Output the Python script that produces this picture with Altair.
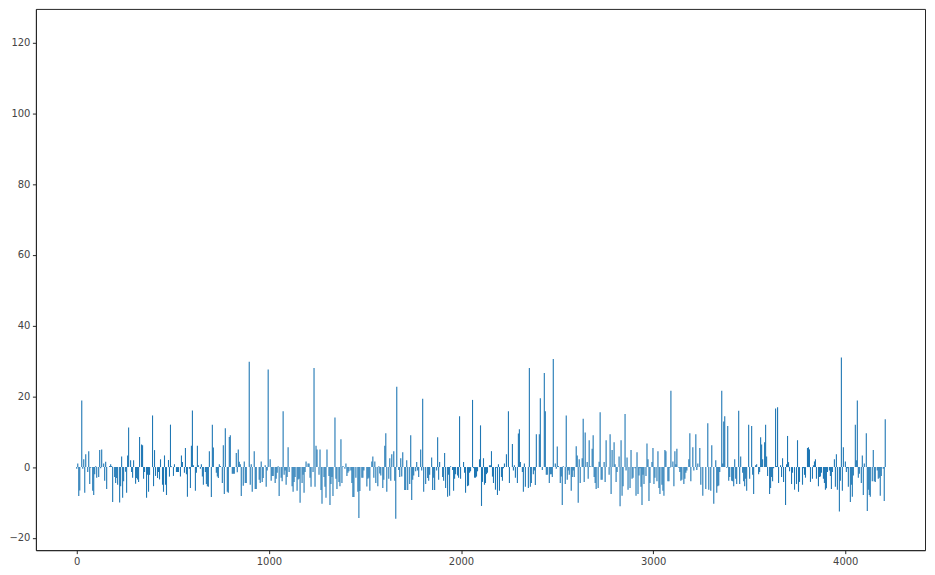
import altair as alt
import pandas as pd

# Bar heights, one per visible bar column (left to right)
seg1 = [-0.5, 1, -8.2, -6.6, 0, 18.8, -0.5, 2.2, -7.3, 3.6,
        0, -1.4, 4.5, -4.8, -0.2, 0, -6.7, -7.9, -2, 0.2,
        -3, 0, -2.8, 4.8, -0.3, 5, 0, 1, -3.9, 1.5,
        -6.2, 0, 0, 0.3, 0.8, 0.3, -9.9, 0, -2.8, -4.5,
        -3.1, -5, 0, -10, -5.4, 3, -8.7, -4, 0, -1.3,
        -7.3, 3.3, 11.2, 0, 1.9, -1.4, -3, 1.9, 0, -4.7,
        -3.1, -3.5, -4.2, 8.5, 0, 6.4, 6.2, -3.3, -1.4, 0,
        -8.7, -2.2, -7, -2.2, 0, 0, 14.6, -5.4, 4.8, -2.5,
        0, -3.1, -1.4, -3.5, 2.2, 0, -5, -7, 3.3, -5,
        -7.9, 0, 2, -2.7, 12, 0.2, 0, -2.5, 0.8, 0,
        -1.4, -1.4, -1.4, 0, -2.7, 3.3, 1.4, 0, -1.6, 5.4,
        -2, -8.4, 0, -0.5, -5.9, 6, 16, 0.5, 0, -6.7,
        -1.6, 6, 0.5, 0, -0.5, 0.8, -2.7, -5, 0, -1.4,
        -4.8, -5.4, -5.6, 4.5]
seg2 = [0, -8.5, 12, 5.5, 0, 0, -1.6, -2.7, -3.1, 0.8,
        0.3, 0, -4.5, 6.2, -7.6, 11, 0, -7, -7.3, 8.5,
        9, 0, -1.9, -1.9, -1.9, 0, 4, -1.5, 5, 1.5,
        0.8, -8.2, 0, -5.3, 1.6, -4.5, -4.5, 0, 0, 29.8,
        -5, 0.8, -7, 0, 4.5, -6.2, -6.2, 0, 0, -3.6,
        -4.5, 1.6, -4.2, -3.1, 0, 0.5, -5.6, -1, 27.6, 0,
        2.2, -3.9, -2.5, -2.5, 0, -4.5, -3.3, -1.6, 0.2, -8.2,
        0, -3, -4, 15.8, -2.2, -1, -5, -2.8, 5.6, -1.4,
        0, 0, -5.4, -7, -4.2, -2.8, 0, -6.7, -3.5, -3.3,
        -10.1, 0, -4.5, -2.2, -7.3, -1.4, 1.6, 0, 1, 1,
        -3, -5.6, 0, -1.4, 28, -5.6, 6, 5, 0, -2.2,
        5, -6.5, -10.4, 0, -2.8, -5.6, -8.7, 5, 0, -2.5,
        -10.7, -4.8, -2.8, -8.2, 0, 14, -3.3, -6.2, 0, -4.2,
        -5.4, 7.9, -4.5, 0.3, 0, -0.5, 1, -2.5, -1.6, -1.2,
        0, -1, -4.5, -8.5, -8.5]
seg3 = [0, -3, 0, -7, -14.4, -6.8, 0, -3, -3, -1,
        0, 0, -5.5, -3.3, -3, -6.7, 0, 1.6, 3, -3,
        1.6, -4.5, 0, -5.4, 0.2, -1.8, -2.4, 0, -5.9, -3.6,
        6, 9.6, -7, 0, -3.3, 2.5, -3.9, 3.6, 0, 4.5,
        -3.9, -14.6, 22.7, 0, -0.8, -2.8, 2.5, -2.7, 4.2, 0,
        -6.5, -6.5, 1.9, -6.5, 0, -4.8, 9, -9.3, -3.6, -2.4,
        0, -1.2, 1.4, -1, -2.8, 0, 5, -1, 19.3, -7,
        0, -4.8, 0, -3.1, -3.9, -2.2, 0, 2.7, -6.5, -3,
        -6.5, 0, -1, 8.4, -3.6, 1.4, 0, 0, -2.8, -3.9,
        4, -5.9, 0, -8.4, -2.2, -8.1, 0.2, 0, -0.8, -6.7,
        -3.3, -2, 0, -2.4, -3, 14.4, -3.3, 0, 0, 1.4,
        -1.6, -7.3, 0, -5.4, -5.2, -1.6, -1.2, 0, 19, -0.3,
        -3, -3, -2.7, -1.2, 0, 2.2, 11.8, -11, -4.2, 2.5,
        -5, -4.5, -2, -1.6, 0, 0.5, 0.5, 4.5, -2.7, -4.5,
        0, -6.4, -0.2, -7.9, 0.8]
seg4 = [-6.7, 0, -2.8, -3.9, -0.3, 1, 0, 3.6, 0, 15.8,
        -4.5, 0, 0, 6.5, -1, 0.5, -3, 0, -4.5, 9.5,
        10.7, 1.4, 0, -1.4, -7, 1, -5.6, 0, 0, -5.9,
        28, -5.6, -4.5, 0, -2, -1, -5.1, 9.3, 0, 0,
        9.3, 19.5, 0, -0.8, 0, 26.6, 15.8, -2.2, -2.2, 0,
        -4.5, -2, -2, -2.8, 30.6, 0, 1, -0.5, 5.8, 0.3,
        0, -4.5, -2.7, -10.7, 0.2, 0, -4.8, 14.6, -3.6, -1,
        -2.2, 0, -6.7, -2.8, -1, -2.8, 0, 5.9, 3.3, -10.1,
        2.2, -4.5, 0, 2.5, 13.7, -4.2, 9.8, 0, 1.4, -3.3,
        7.6, 0.2, 0, 5.2, 9, -2.8, -4.5, -6.2, 0, -5.9,
        1.5, 15.5, -3.6, -3.6, 0, 1.4, -4.2, 7.6, 0, 0,
        -2.2, 9.3, -7.6, 4.8, 0, 7, 0.8, -4.2, -1.4, 0,
        3, -11.1, 7.6, -8.1, -5.4, 0, 15, -1, 2.7, -6.4,
        0, -5.9, 4.8, -3.3, -3, 0, -0.3, -8.1, 4.2, -7.6,
        -2.4, -0.3, -5.6, -10.7, -2.2]
seg5 = [-4.8, 0, -2.5, 6.7, 2.2, -9.6, -4.5, 0, 1.4, 5.4,
        -4.8, -3, 0, -4, 4.5, -5.9, -7.6, 0, -5, -6.7,
        -8.1, 4.8, 4.5, 0, -4, -4, -0.2, 21.6, 0, 1.6,
        -5.4, 4.5, 0.8, 5.2, 0, -0.2, -1.4, -3.9, -3.6, 0,
        -4.8, -3.3, -1.6, -1, 0, 2.2, 9.6, -4, 0, 5.6,
        -1, 0, 9.3, -0.8, 1, 0, 5.4, -5, 0, -8.1,
        0, 0, -6.2, 0, 12.4, -6.4, 0, -6.7, 6.2, 0,
        -10.4, 0, 1.9, -7.3, -5.4, -5.2, -1.4, 0, 21.6, 1,
        12.9, 14.4, 0, -0.2, 11.6, -3.9, -2.8, 0, -3.9, -4,
        -5.4, 2.2, -3.3, -4.8, 0, 15.9, -4.8, 3, 0, -1.6,
        -4, -5.4, -3.3, -6.7, 0, 12, -3.3, 0, 11.6, -2.2,
        -7.6, 0, 0.5, 0.8, 0, -2, -1.4, 8.4, 6.4, 2.2,
        0, 7, 12, 3, -2.5, 0, -7.6, -5.9, -2.8, -4,
        -0.3, 0, 16.6, 0.3, 16.9, -4.5, 0, 0.5, -2.8, 2.5,
        -4.2, 0, -10.7, 0.8, 8.8]
seg6 = [1.4, -1.2, 0, -4.8, -1.6, 0, -6.4, 0, -4.8, 7.6,
        -7, -4.2, 0, 0, -5, -0.3, -2.2, -3, 0, 5.4,
        5.6, 5, -4.2, 0, -3.3, 0.5, 1.6, 2.2, -3.3, 0,
        -5.4, -2.8, -2.7, -1.6, 0, -3.3, -4.5, -6.4, -6, -1.4,
        0, -1, -2.5, -6.2, -1.4, 0, 2.2, -5.6, 3.6, -6.4,
        0, -12.6, -3.9, 31, -6.7, 5.6, 0, 1.6, -1.4, -0.3,
        -5.6, 0, -9.9, -5, -8.4, -2.4, 0, 12, 1.9, 18.8,
        -3, -1.9, 0, -4.5, 3.3, -7.9, 1, 0, 9.6, -12.4,
        -6.4, -7.9, -8.4, 0, -4, 4.8, -4, -4.2, 0, -1,
        -3.3, -3, -8.1, -2.5, 0, -0.5, -9.6, 13.5]

values = seg1 + seg2 + seg3 + seg4 + seg5 + seg6
last_index = 4208  # index of the last bar in the original series
positions = [i * last_index / (len(values) - 1) for i in range(len(values))]

x_ticks = [0, 1000, 2000, 3000, 4000]
y_ticks = [-20, 0, 20, 40, 60, 80, 100, 120]

df = pd.DataFrame({"x": positions, "v": values})

axis_common = dict(
    title=None, grid=False, format="d",
    labelFont="DejaVu Sans", labelFontSize=10, labelColor="#444444",
    tickColor="#262626", tickSize=3.5, tickWidth=1,
    domainColor="#262626", domainWidth=1, labelPadding=2.5,
)

chart = alt.Chart(df).mark_rule(strokeWidth=1.1, color="#1f77b4").encode(
    x=alt.X("x:Q",
            scale=alt.Scale(domain=[-212.7, 4415.0], nice=False, zero=False),
            axis=alt.Axis(values=x_ticks, **axis_common)),
    y=alt.Y("v:Q",
            scale=alt.Scale(domain=[-23.5, 129.6], nice=False, zero=False),
            axis=alt.Axis(values=y_ticks, **axis_common)),
    y2=alt.datum(0),
).properties(
    width=892, height=543,
    autosize=alt.AutoSizeParams(type="none"),
    padding={"left": 28, "top": 0, "right": 2, "bottom": 16},
).configure_view(
    stroke="#262626", strokeWidth=1
)

chart.save("out.html", embed_options={"renderer": "svg", "actions": False})
